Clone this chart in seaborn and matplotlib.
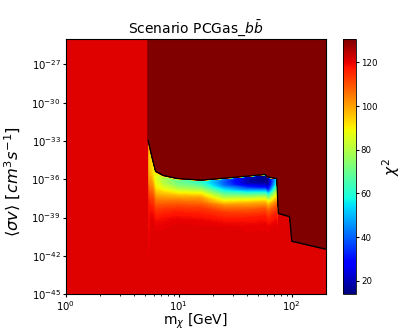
import matplotlib
matplotlib.use('Agg')
import matplotlib.pyplot as plt
import matplotlib.ticker as mticker
import numpy as np
import seaborn as sns

# upper limit (black line)
line_mass = [5.36, 5.86, 6.23, 7.3, 9.73, 15.7, 25.0, 40.0, 57.8, 62.0, 73.5,
             76.0, 95.5, 100.0, 200.0]
line_logsv = [-32.97, -34.45, -35.37, -35.7, -35.94, -36.07, -35.92, -35.76,
              -35.63, -35.84, -35.94, -38.67, -38.93, -40.86, -41.48]

# columns left of the threshold are flat background
bg_mass = [1.0, 5.3]
chi2_bg = 121.0
chi2_excl = 130.7
chi2_min, chi2_max = 14.0, 130.7

# chi2 just below the limit, per column of line_mass, at these depths (decades)
depths = [0.05, 0.3, 0.6, 1.0, 1.4, 1.8, 2.2, 2.7, 3.3, 4.0, 5.0]
chi2_band = [
    [100, 98, 97, 96, 95, 95, 96, 98, 103, 110, 117],   # 5.36
    [94, 92, 91, 92, 95, 99, 104, 109, 114, 118, 121],  # 5.86
    [92, 88, 87, 88, 92, 98, 104, 110, 115, 119, 121],  # 6.23
    [82, 79, 80, 86, 95, 102, 108, 114, 118, 120, 121],  # 7.3
    [72, 70, 74, 86, 98, 106, 112, 117, 120, 121, 121],  # 9.73
    [62, 63, 72, 88, 100, 107, 113, 117, 120, 121, 121],  # 15.7
    [42, 38, 42, 58, 75, 90, 104, 113, 118, 121, 121],  # 25
    [22, 18, 20, 40, 65, 86, 100, 110, 117, 120, 121],  # 40
    [16, 14.5, 15, 28, 58, 82, 98, 110, 117, 120, 121],  # 57.8
    [17, 15, 17, 32, 60, 82, 98, 109, 116, 120, 121],  # 62
    [55, 55, 62, 78, 92, 102, 110, 116, 119, 121, 121],  # 73.5
    [121, 121, 121, 121, 121, 121, 121, 121, 121, 121, 121],  # 76
    [121, 121, 121, 121, 121, 121, 121, 121, 121, 121, 121],  # 95.5
    [121, 121, 121, 121, 121, 121, 121, 121, 121, 121, 121],  # 100
    [121, 121, 121, 121, 121, 121, 121, 121, 121, 121, 121],  # 200
]

y_top, y_bottom = -25.0, -45.0
m_min, m_max = 1.0, 200.0

# curvilinear mesh (in log10 units) that follows the limit line
mass_cols = np.log10(np.array(bg_mass + line_mass))
limit_cols = np.array([line_logsv[0]] * len(bg_mass) + line_logsv)
n_bg = len(bg_mass)
top_vals = np.array([chi2_bg] * n_bg + [chi2_excl] * len(line_mass))

rows_y = [np.full(len(mass_cols), y_top), limit_cols]
rows_c = [top_vals, top_vals]
band = np.array(chi2_band, dtype=float)
for j, d in enumerate(depths):
    rows_y.append(limit_cols - d)
    rows_c.append(np.concatenate([np.full(n_bg, chi2_bg), band[:, j]]))
rows_y.append(np.full(len(mass_cols), y_bottom))
rows_c.append(np.full(len(mass_cols), chi2_bg))

Y = np.array(rows_y)
X = np.tile(mass_cols, (len(rows_y), 1))
C = np.array(rows_c)

fig = plt.figure(figsize=(4.13, 3.3), dpi=100)
ax = fig.add_axes([0.159, 0.109, 0.630, 0.773])
cax = fig.add_axes([0.830, 0.109, 0.032, 0.773])

norm = matplotlib.colors.Normalize(vmin=chi2_min, vmax=chi2_max)
ax.contourf(X, Y, C, levels=np.linspace(chi2_min, chi2_max, 160),
            cmap='jet', norm=norm, extend='both', antialiased=False)
sns.lineplot(x=np.log10(line_mass), y=line_logsv, color='black',
             lw=0.9, sort=False, estimator=None, ax=ax)

ax.set_xlim(np.log10(m_min), np.log10(m_max))
ax.set_ylim(y_bottom, y_top)
pow_fmt = mticker.FuncFormatter(lambda v, p: r'$\mathdefault{10^{%d}}$' % round(v))
ax.xaxis.set_major_locator(mticker.FixedLocator([0, 1, 2]))
ax.xaxis.set_minor_locator(mticker.FixedLocator(
    np.log10(np.concatenate([np.arange(2, 10), np.arange(20, 100, 10)]))))
ax.yaxis.set_major_locator(mticker.FixedLocator(range(-45, -26, 3)))
ax.xaxis.set_major_formatter(pow_fmt)
ax.yaxis.set_major_formatter(pow_fmt)
ax.tick_params(which='major', labelsize=7.3, length=2.2, pad=1.2)
ax.tick_params(which='minor', length=1.3)
ax.set_xlabel(r'm$_\chi$ [GeV]', fontsize=10)
ax.xaxis.set_label_coords(0.5, -0.07)
ax.set_ylabel(r'$\langle\sigma v\rangle$ $[cm^3s^{-1}]$', fontsize=11.7)
ax.yaxis.set_label_coords(-0.164, 0.441)
ax.set_title(r'Scenario PCGas_$b\bar{b}$', fontsize=10, pad=3.5)

sm = matplotlib.cm.ScalarMappable(norm=norm, cmap='jet')
cb = fig.colorbar(sm, cax=cax)
cb.set_ticks([20, 40, 60, 80, 100, 120])
cb.ax.tick_params(labelsize=6.2, length=2, pad=1.5)
cb.outline.set_linewidth(0.6)
cb.set_label(r'$\chi^2$', fontsize=11, labelpad=2)

fig.savefig('out.png', dpi=100)
